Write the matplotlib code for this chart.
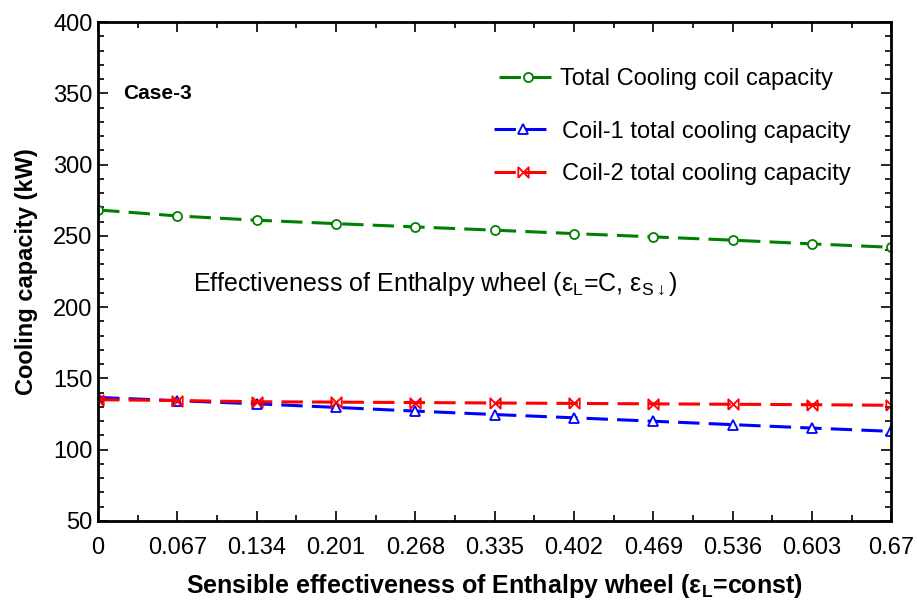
import matplotlib.pyplot as plt
from matplotlib.ticker import MultipleLocator

# data
eff_s = [0, 0.067, 0.134, 0.201, 0.268, 0.335, 0.402, 0.469, 0.536, 0.603, 0.67]
x_labels = ["0", "0.067", "0.134", "0.201", "0.268", "0.335", "0.402", "0.469", "0.536", "0.603", "0.67"]
total_cap = [268.2, 264.0, 261.0, 258.6, 256.3, 254.0, 251.6, 249.3, 247.0, 244.4, 242.0]
coil1_cap = [136.6, 134.3, 132.1, 129.6, 127.0, 124.6, 122.3, 119.9, 117.5, 115.1, 112.8]
coil2_cap = [135.0, 134.4, 133.6, 133.3, 133.0, 132.7, 132.4, 132.1, 131.8, 131.5, 131.1]

plt.rcParams["font.family"] = ["Liberation Sans", "DejaVu Sans"]
plt.rcParams["mathtext.default"] = "regular"

bowtie = [(-1, -1), (1, 1), (1, -1), (-1, 1), (-1, -1)]
dash = (0, (7, 3))

fig = plt.figure(figsize=(9.17, 6), dpi=100)
ax = fig.add_axes([0.107, 0.132, 0.865, 0.831])

h1, = ax.plot(eff_s, total_cap, color="#008000", lw=2.2, linestyle=dash, marker="o",
              markersize=6.5, markerfacecolor="white", markeredgewidth=1.3,
              label="Total Cooling coil capacity")
h2, = ax.plot(eff_s, coil1_cap, color="#0000ff", lw=2.2, linestyle=dash, marker="^",
              markersize=7.5, markerfacecolor="white", markeredgewidth=1.3,
              label="Coil-1 total cooling capacity")
h3, = ax.plot(eff_s, coil2_cap, color="#ff0000", lw=2.2, linestyle=dash, marker=bowtie,
              markersize=7.5, markerfacecolor="none", markeredgewidth=1.3,
              label="Coil-2 total cooling capacity")

ax.set_xlim(0, 0.67)
ax.set_ylim(50, 400)
ax.set_xticks(eff_s)
ax.set_xticklabels(x_labels)
ax.xaxis.set_minor_locator(MultipleLocator(0.0335))
ax.yaxis.set_major_locator(MultipleLocator(50))
ax.yaxis.set_minor_locator(MultipleLocator(10))
ax.tick_params(which="both", direction="in", top=True, right=True, width=1.2)
ax.tick_params(which="major", length=7, labelsize=17)
ax.tick_params(which="minor", length=4)
ax.tick_params(axis="x", which="major", pad=12)
ax.tick_params(axis="y", which="major", pad=4)
for sp in ax.spines.values():
    sp.set_linewidth(2)

ax.set_xlabel(r"Sensible effectiveness of Enthalpy wheel (ε$_L$=const)",
              fontsize=18, fontweight="bold", labelpad=9)
ax.set_ylabel("Cooling capacity (kW)", fontsize=17, fontweight="bold", labelpad=11)

ax.text(0.031, 0.845, "Case-3", transform=ax.transAxes, fontsize=15, fontweight="bold")
ax.text(0.12, 0.46, r"Effectiveness of Enthalpy wheel (ε$_L$=C, ε$_{S\downarrow}$)",
        transform=ax.transAxes, fontsize=18)

leg1 = ax.legend(handles=[h1], loc="upper left", bbox_to_anchor=(0.478, 0.95), frameon=False,
                 fontsize=17, handlelength=2.5, handletextpad=0.1, numpoints=1)
ax.add_artist(leg1)
ax.legend(handles=[h2, h3], loc="upper left", bbox_to_anchor=(0.472, 0.845), frameon=False,
          fontsize=17, handlelength=2.5, handletextpad=0.4, numpoints=1, labelspacing=0.85)

fig.savefig("out.png", dpi=100)
